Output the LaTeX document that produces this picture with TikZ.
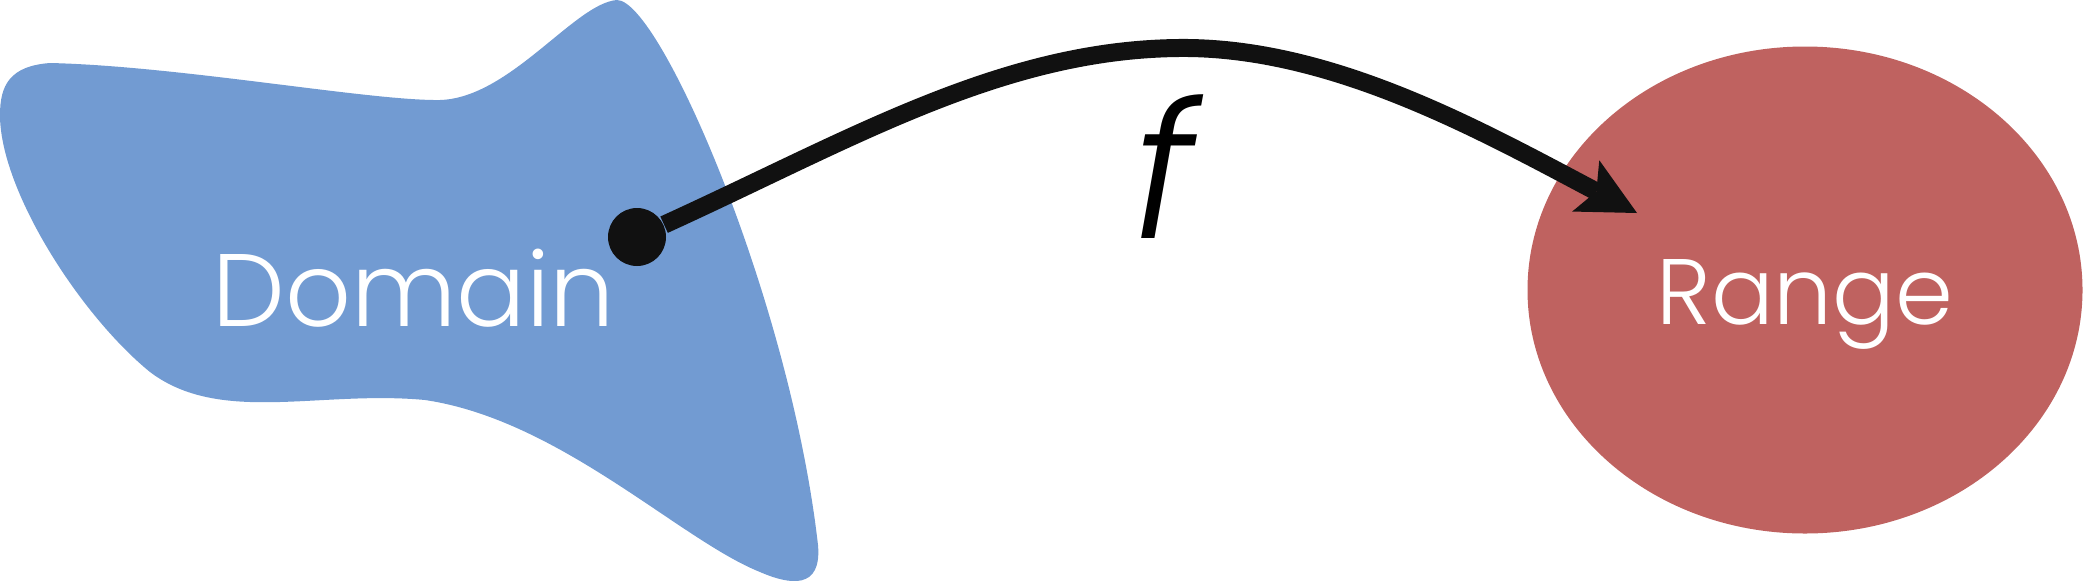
\documentclass[tikz,border=0pt]{standalone}
\usepackage{fontspec}
\IfFontExistsTF{Poppins Light}{\setmainfont{Poppins Light}}{\setmainfont{Poppins}}
\usetikzlibrary{arrows.meta,shapes.geometric}

\definecolor{domainblue}{RGB}{114,155,210}
\definecolor{rangered}{RGB}{191,98,96}
\definecolor{mapblack}{RGB}{17,17,17}

\tikzset{every picture/.style={line width=0.75pt}}
\tikzset{
  setlabel/.style={text=white,inner sep=0pt},
  pointdot/.style={circle,fill=mapblack,inner sep=0pt,minimum size=29pt},
  mapline/.style={draw=mapblack,line width=9pt,-{Stealth[length=29pt,width=29pt,inset=6pt,line width=0pt]}},
}

\begin{document}
\begin{tikzpicture}[x=0.5pt,y=0.5pt,yscale=-1]
\useasboundingbox (0,0) rectangle (2083,580);

%Shape: Blob [domain]
\fill[domainblue] (0,115) .. controls (0,85) and (10,66) .. (50,63)
  .. controls (180,66) and (370,101) .. (440,100)
  .. controls (510,98) and (575,3) .. (617,0)
  .. controls (660,0) and (790,300) .. (818,545)
  .. controls (822,590) and (790,585) .. (760,572)
  .. controls (680,540) and (560,420) .. (425,400)
  .. controls (320,390) and (220,425) .. (150,372)
  .. controls (80,315) and (0,190) .. cycle;

%Shape: Ellipse [range]
\node[ellipse,fill=rangered,inner sep=0pt,minimum width=277.5pt,minimum height=243.5pt] (range) at (1805,290) {};

% Text Node
\node[setlabel,anchor=base west,font=\fontsize{51.5}{60}\selectfont] (domainlabel) at (212,326) {Domain};
% Text Node
\node[setlabel,anchor=base,font=\fontsize{46.5}{55}\selectfont] (rangelabel) at (1805,324) {Range};

%Point
\node[pointdot] (pt) at (637,237) {};
\coordinate (apex) at (1178,48);
\coordinate (hit) at (1637,213);

%Curve Lines [map]
\draw[mapline] (pt) .. controls (850,140) and (1000,50) .. (apex) .. controls (1330,46) and (1480,130) .. (hit);

% Text Node
\node[anchor=base,inner sep=0pt,font=\itshape\fontsize{95}{100}\selectfont] (flabel) at (1163,238) {f};

\end{tikzpicture}
\end{document}
